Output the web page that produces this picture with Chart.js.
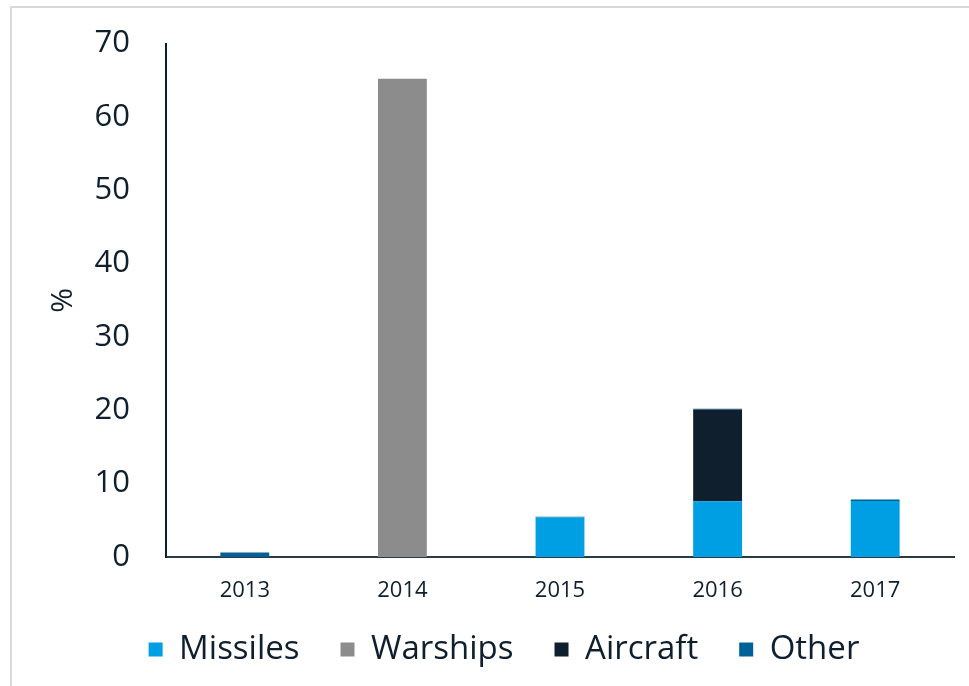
<!DOCTYPE html>
<html>
    <head>
        <title> Exports by category </title>
        <script src = "https://cdn.jsdelivr.net/npm/chart.js"> </script>
        <style>
            body { margin: 0; background: #fff; overflow: hidden; }
            #wrap { position: relative; width: 969px; height: 686px; }
            #frame {
                position: absolute; left: 10px; top: 6px; right: -10px; bottom: -10px;
                border-left: 2px solid #d9d9d9; border-top: 2px solid #d9d9d9;
            }
            #myChart { position: absolute; left: 0; top: 0; }
        </style>
    </head>

    <body onload = "createChart()">

            <div id="wrap">
                <div id="frame"></div>
                <canvas id="myChart" width="969" height="686"></canvas>
            </div>

            <script>
                // share of each year's total, %
                const years    = ['2013', '2014', '2015', '2016', '2017'];
                const missiles = [0,   0,    5.4, 7.6,  7.65];
                const warships = [0,   65.2, 0,   0,    0];
                const aircraft = [0,   0,    0,   12.5, 0];
                const other    = [0.6, 0,    0.1, 0.1,  0.2];
                const yTicks   = [0, 10, 20, 30, 40, 50, 60, 70];

                const ink = '#0f1f2d';
                const font = "'Open Sans', sans-serif";

                // legend padding doubles as the gap between items, so keep the
                // wide gap, give the box a fixed height and nudge it into place
                const legendBox = {
                    id: 'legendBox',
                    beforeLayout(chart) {
                        const lg = chart.legend;
                        if (!lg || lg._fixed) return;
                        const fit = lg.fit;
                        lg.fit = function () {
                            fit.call(this);
                            this.height = 81;
                        };
                        lg._fixed = true;
                    },
                    afterLayout(chart) {
                        const lg = chart.legend;
                        lg.top -= 13;
                        lg.bottom -= 13;
                        lg.left += 54;
                    }
                };

                function createChart() {
                    const ctx = document.getElementById('myChart');

                    new Chart(ctx, {
                        type: 'bar',
                        data: {
                            labels: years,
                            datasets: [
                                { label: 'Missiles', data: missiles, backgroundColor: '#009fe3' },
                                { label: 'Warships', data: warships, backgroundColor: '#8c8c8c' },
                                { label: 'Aircraft', data: aircraft, backgroundColor: '#0f1f2d' },
                                { label: 'Other',    data: other,    backgroundColor: '#006098' }
                            ]
                        },
                        plugins: [legendBox],
                        options: {
                            responsive: false,
                            animation: false,
                            datasets: {
                                bar: { categoryPercentage: 1, barPercentage: 0.31, borderWidth: 0 }
                            },
                            layout: { padding: { top: 23, right: 15, left: 0, bottom: 0 } },
                            plugins: {
                                tooltip: { enabled: false },
                                legend: {
                                    position: 'bottom',
                                    labels: {
                                        color: ink,
                                        font: { family: font, size: 33 },
                                        boxWidth: 14,
                                        boxHeight: 14,
                                        padding: 41
                                    }
                                }
                            },
                            scales: {
                                x: {
                                    stacked: true,
                                    grid: { display: false },
                                    border: { display: true, color: '#2b3a47', width: 2 },
                                    ticks: { color: ink, font: { family: font, size: 22 }, padding: 13 },
                                    afterFit: function (scale) { scale.height = 48; }
                                },
                                y: {
                                    stacked: true,
                                    min: 0,
                                    max: 70,
                                    afterBuildTicks: function (scale) {
                                        scale.ticks = yTicks.map(function (v) { return { value: v }; });
                                    },
                                    grid: { display: false },
                                    border: { display: true, color: ink, width: 2 },
                                    ticks: { color: ink, font: { family: font, size: 31, lineHeight: 1 }, padding: 28 },
                                    title: {
                                        display: true,
                                        text: '%',
                                        color: ink,
                                        font: { family: font, size: 30 },
                                        padding: { top: 45, bottom: 0 }
                                    },
                                    afterFit: function (scale) { scale.width = 166; }
                                }
                            }
                        }
                    });
                }
            </script>

    </body>
</html>
